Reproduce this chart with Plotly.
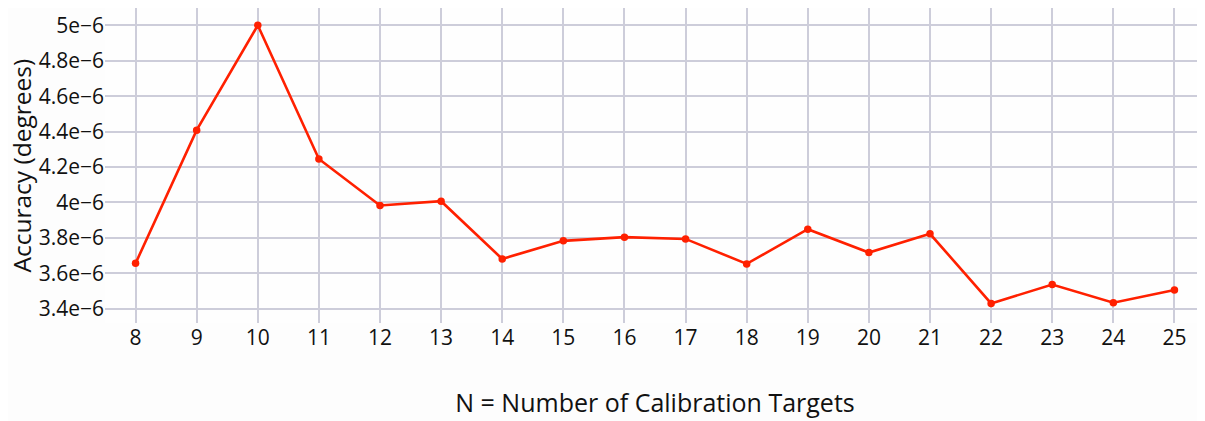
import plotly.graph_objects as go

n_targets = list(range(8, 26))
accuracy = [3.656e-6, 4.408e-6, 5.0e-6, 4.245e-6, 3.983e-6, 4.007e-6,
            3.681e-6, 3.783e-6, 3.804e-6, 3.794e-6, 3.653e-6, 3.849e-6,
            3.717e-6, 3.823e-6, 3.430e-6, 3.536e-6, 3.434e-6, 3.506e-6]

fig = go.Figure(go.Scatter(
    x=n_targets, y=accuracy, mode="lines+markers",
    line=dict(color="#ff2000", width=2.6),
    marker=dict(color="#ff2000", size=7.5),
))

grid = "#cdcdda"
fig.update_layout(
    width=1197, height=413,
    margin=dict(l=97, r=0, t=0, b=98),
    paper_bgcolor="#fdfdfd", plot_bgcolor="#fefefe",
    font=dict(family="Open Sans", size=21, color="#111"),
    showlegend=False,
    xaxis=dict(range=[7.5, 25.5], dtick=1, tick0=8, showgrid=True,
               gridcolor=grid, gridwidth=1.5, zeroline=False,
               title=dict(text="N = Number of Calibration Targets", font=dict(size=25), standoff=44)),
    yaxis=dict(range=[3.3193e-6, 5.0977e-6], dtick=0.2e-6, tick0=3.4e-6,
               exponentformat="e", showgrid=True, gridcolor=grid, gridwidth=1.5,
               zeroline=False),
    annotations=[dict(text="Accuracy (degrees)", xref="paper", yref="paper",
                      x=0, y=0.5, xanchor="center", yanchor="middle",
                      xshift=-84, textangle=-90, showarrow=False,
                      font=dict(size=24.5))],
)

fig.write_html("out.html")
